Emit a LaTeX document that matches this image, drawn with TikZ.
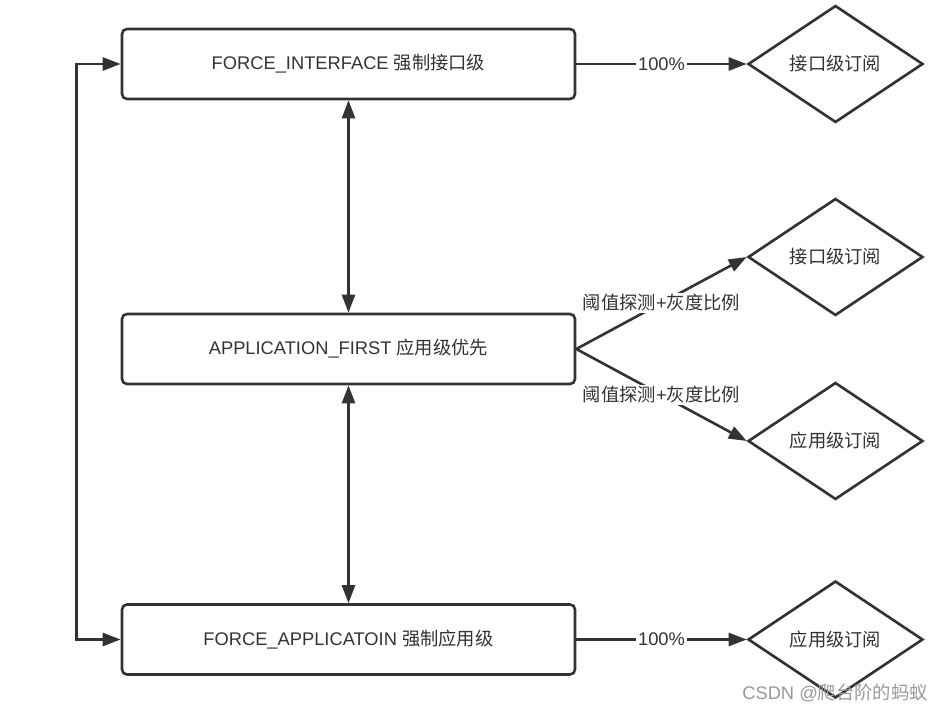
\documentclass[tikz,border=0pt]{standalone}
\usepackage{fontspec}
\setmainfont{Liberation Sans}
\newfontfamily\cjk{Noto Sans CJK SC}
\usetikzlibrary{shapes.geometric,arrows.meta}
\definecolor{ink}{HTML}{333333}
\newcommand\figfont{\fontsize{18.3}{22}\selectfont}
\begin{document}
\begin{tikzpicture}[x=1pt,y=-1pt,
  box/.style={draw=ink,line width=2.6pt,rounded corners=5pt,minimum width=453pt,minimum height=70pt,inner sep=0pt,text=ink,font=\figfont},
  dia/.style={diamond,draw=ink,line width=2.6pt,minimum width=175pt,minimum height=117pt,inner sep=0pt,text=ink,font=\figfont},
  tip/.tip={Triangle[length=18pt,width=13pt]},
  arr/.style={draw=ink,line width=2.6pt,-tip},
  dbl/.style={draw=ink,line width=2.6pt,tip-tip},
  lbl/.style={fill=white,inner sep=2pt,text=ink,font=\figfont}]
\useasboundingbox[fill=white] (0,0) rectangle (946,714);
\node[box] (top) at (348.5,64) {FORCE\_INTERFACE {\cjk 强制接口级}};
\node[box] (mid) at (348.5,349) {APPLICATION\_FIRST {\cjk 应用级优先}};
\node[box] (bot) at (348.5,639.5) {FORCE\_APPLICATOIN {\cjk 强制应用级}};
\node[dia] (d1) at (835.5,64) {\cjk 接口级订阅};
\node[dia] (d2) at (835.5,257) {\cjk 接口级订阅};
\node[dia] (d3) at (835.5,441) {\cjk 应用级订阅};
\node[dia] (d4) at (835.5,639.5) {\cjk 应用级订阅};
\draw[arr] (top.east) -- node[lbl] {100\%} (d1.west);
\draw[arr] (bot.east) -- node[lbl] {100\%} (d4.west);
\draw[arr] (mid.east) -- node[lbl] {{\cjk 阈值探测}+{\cjk 灰度比例}} (d2.west);
\draw[arr] (mid.east) -- node[lbl] {{\cjk 阈值探测}+{\cjk 灰度比例}} (d3.west);
\draw[dbl] (top.south) -- (mid.north);
\draw[dbl] (mid.south) -- (bot.north);
\draw[dbl] (top.west) -- ([xshift=-44pt]top.west) |- (bot.west);
\node[text=black!40,font=\figfont,inner sep=0pt] (wm) at (835,693) {CSDN @{\cjk 爬台阶的蚂蚁}};
\end{tikzpicture}
\end{document}
